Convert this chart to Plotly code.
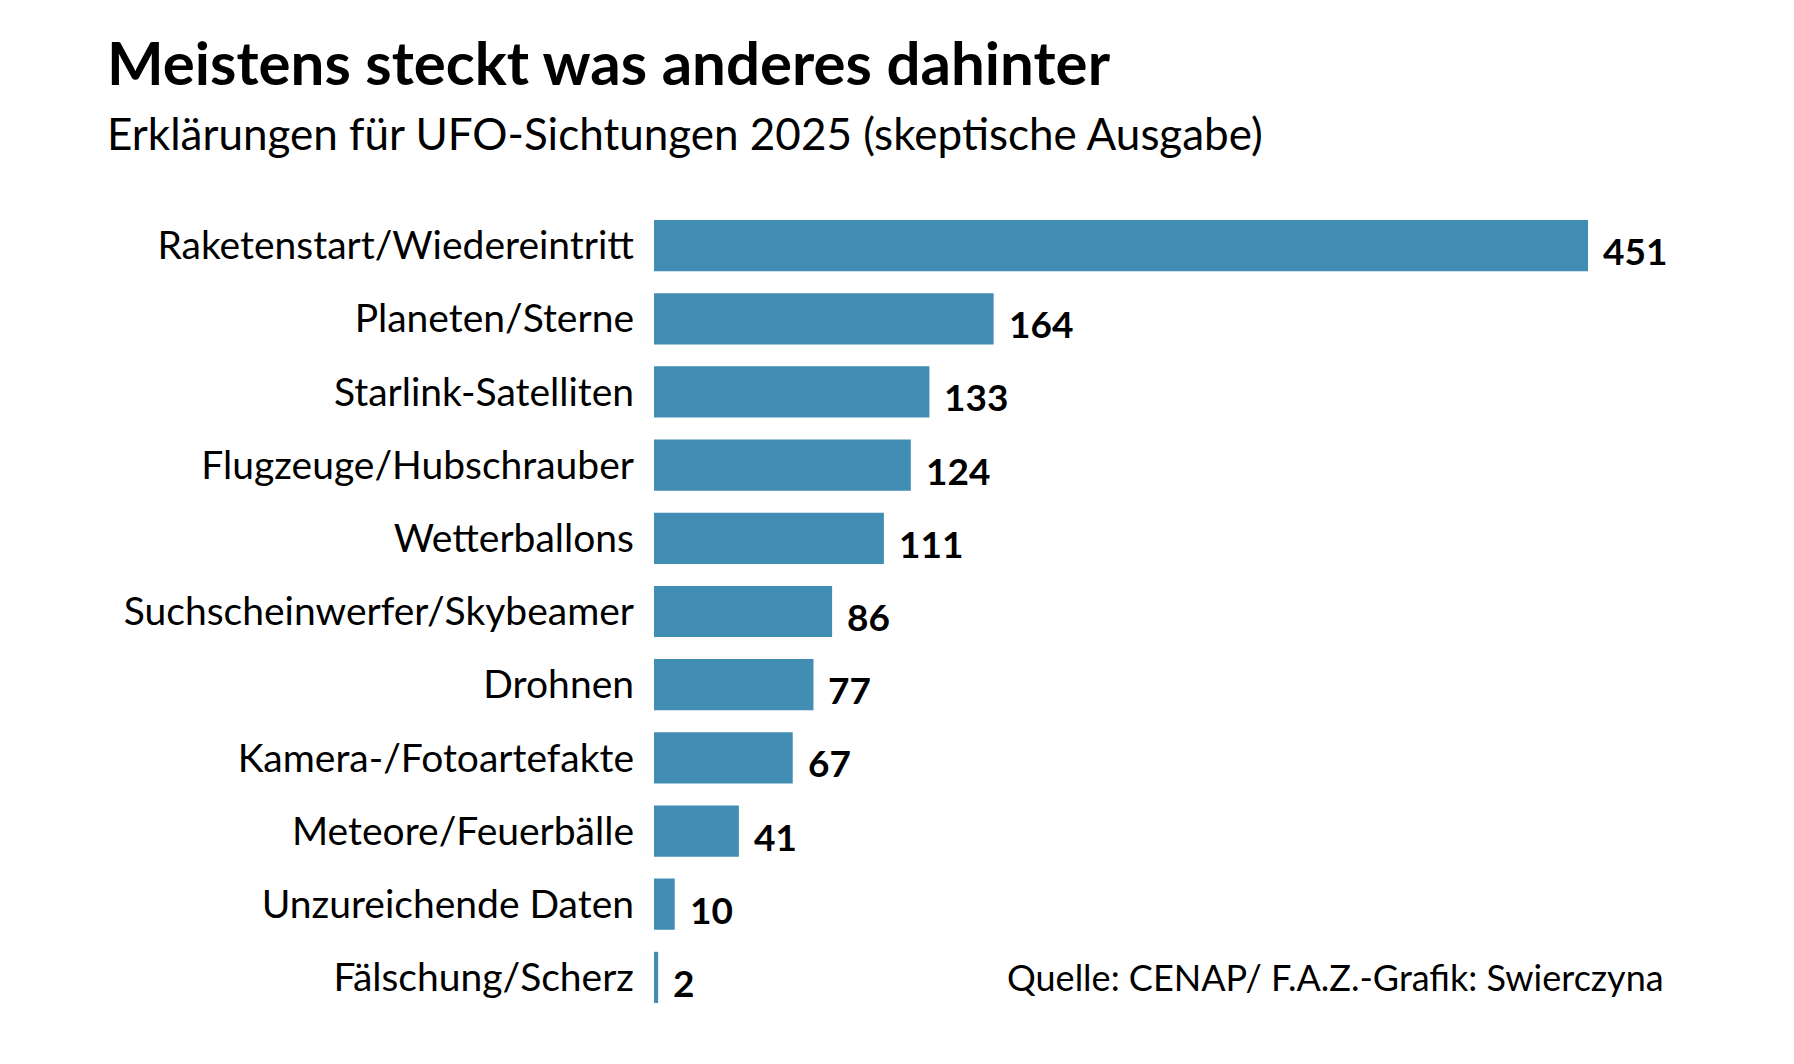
import plotly.graph_objects as go

categories = [
    "Raketenstart/Wiedereintritt",
    "Planeten/Sterne",
    "Starlink-Satelliten",
    "Flugzeuge/Hubschrauber",
    "Wetterballons",
    "Suchscheinwerfer/Skybeamer",
    "Drohnen",
    "Kamera-/Fotoartefakte",
    "Meteore/Feuerbälle",
    "Unzureichende Daten",
    "Fälschung/Scherz",
]
values = [451, 164, 133, 124, 111, 86, 77, 67, 41, 10, 2]

title = "Meistens steckt was anderes dahinter"
subtitle = "Erklärungen für UFO-Sichtungen 2025 (skeptische Ausgabe)"
source = "Quelle: CENAP/ F.A.Z.-Grafik: Swierczyna"

W, H = 1794, 1064
L, R, T, B = 654, 94, 209, 50
PW, PH = W - L - R, H - T - B
FONT = "Lato"
BAR = "#428db3"
xmax = PW / 2.071


def px(x):
    return (x - L) / PW


def py(y):
    return (H - B - y) / PH


fig = go.Figure()
fig.add_trace(go.Bar(
    x=values, y=categories, orientation="h",
    marker=dict(color=BAR, line=dict(width=0)),
    textposition="none",
    hoverinfo="skip",
))

for c, v in zip(categories, values):
    fig.add_annotation(
        x=v, y=c, xref="x", yref="y", text=f"<b>{v}</b>", showarrow=False,
        xanchor="left", yanchor="middle", xshift=13, yshift=-5,
        font=dict(family=FONT, size=37, color="#000000"),
    )

fig.add_annotation(
    x=px(1666), y=py(977), xref="paper", yref="paper",
    text=source, showarrow=False, xanchor="right", yanchor="middle",
    font=dict(family=FONT, size=36, color="#000000"),
)
fig.add_annotation(
    x=px(105), y=py(62), xref="paper", yref="paper",
    text=f"<b>{title}</b>", showarrow=False, xanchor="left", yanchor="middle",
    font=dict(family=FONT, size=60, color="#000000"),
)
fig.add_annotation(
    x=px(105), y=py(133), xref="paper", yref="paper",
    text=subtitle, showarrow=False, xanchor="left", yanchor="middle",
    font=dict(family=FONT, size=44, color="#000000"),
)

fig.update_layout(
    width=W, height=H,
    margin=dict(l=L, r=R, t=T, b=B, pad=0),
    paper_bgcolor="white", plot_bgcolor="white",
    bargap=0.30,
    showlegend=False,
    xaxis=dict(range=[0, xmax], visible=False, fixedrange=True),
    yaxis=dict(
        categoryorder="array", categoryarray=categories,
        range=[len(categories) - 0.5, -0.5],
        showgrid=False, zeroline=False, showline=False, ticks="",
        ticklabelstandoff=19,
        tickfont=dict(family=FONT, size=39, color="#000000"),
    ),
)

fig.write_html("out.html")
